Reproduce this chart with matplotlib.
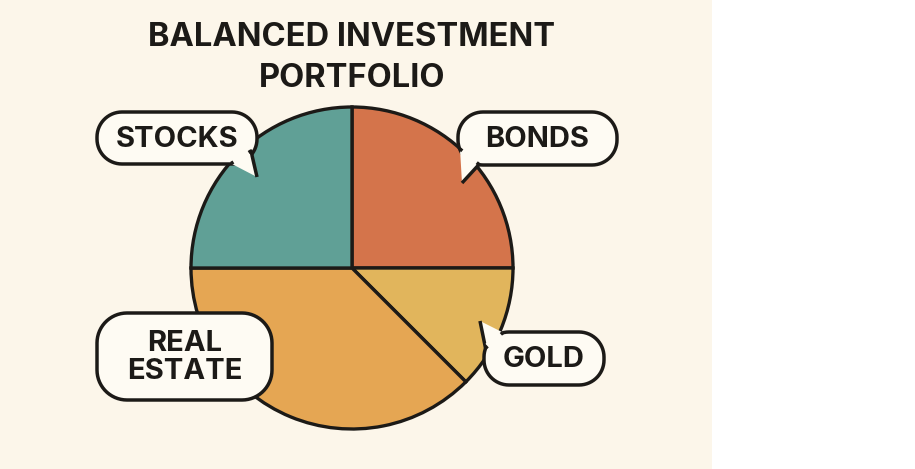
import numpy as np
import matplotlib.pyplot as plt
from matplotlib.patches import Polygon, Rectangle

# slice data, clockwise from 12 o'clock
labels = ['BONDS', 'GOLD', 'REAL\nESTATE', 'STOCKS']
shares = [25, 12.5, 37.5, 25]
colors = ['#d4744b', '#e1b55c', '#e5a653', '#60a096']
title = 'BALANCED INVESTMENT\nPORTFOLIO'

W, H = 915, 469
INK = '#1c1a17'
BG = '#fcf6ea'
BUBBLE = '#fefbf3'
FONT = 'Inter'

# bubble layout in image pixels (y measured from top): box x0, y0, x1, y1, corner radius, tail points
bubbles = {
    'STOCKS': dict(box=(97, 112, 257, 164), r=25, tail=[(231, 163.5), (251, 151), (257, 177)]),
    'BONDS': dict(box=(458, 112, 617, 165), r=25, tail=[(460, 149), (479, 164.5), (462, 183)]),
    'GOLD': dict(box=(484, 332, 604, 385), r=25, tail=[(503, 332.5), (485.5, 348), (480, 321)]),
    'REAL\nESTATE': dict(box=(97, 313, 272, 400), r=30, tail=None),
}

fig = plt.figure(figsize=(W / 100, H / 100), dpi=100)
fig.patch.set_facecolor('white')
ax = fig.add_axes([0, 0, 1, 1])
ax.add_patch(Rectangle((0, 0), 712, H, facecolor=BG, edgecolor='none', zorder=0))

ax.pie(shares, colors=colors, startangle=90, counterclock=False,
       center=(352, H - 268), radius=161, frame=True,
       wedgeprops=dict(edgecolor=INK, linewidth=2.4, zorder=2))

def fy(y):
    return H - y

def rounded_rect(x0, y0, x1, y1, r):
    # corners in figure pixels, y up
    pts = []
    for cx, cy, a0 in [(x1 - r, y1 - r, 0), (x0 + r, y1 - r, 90),
                       (x0 + r, y0 + r, 180), (x1 - r, y0 + r, 270)]:
        t = np.radians(np.linspace(a0, a0 + 90, 16))
        pts += list(zip(cx + r * np.cos(t), cy + r * np.sin(t)))
    return pts

for lab in labels:
    b = bubbles[lab]
    x0, y0, x1, y1 = b['box']
    ax.add_patch(Polygon(rounded_rect(x0, fy(y1), x1, fy(y0), b['r']), closed=True,
                         facecolor=BUBBLE, edgecolor=INK, linewidth=2.5,
                         joinstyle='round', zorder=4))
    if b['tail'] is not None:
        pts = [(px, fy(py)) for px, py in b['tail']]
        ax.add_patch(Polygon(pts, closed=False, facecolor=BUBBLE, edgecolor=INK,
                             linewidth=2.5, joinstyle='round', zorder=5))
        # hide box outline under the tail base
        (ax_, ay_), (bx_, by_) = pts[0], pts[1]
        inner = [(ax_ + (bx_ - ax_) * 0.12, ay_ + (by_ - ay_) * 0.12),
                 (ax_ + (bx_ - ax_) * 0.88, ay_ + (by_ - ay_) * 0.88)]
        ax.plot([p[0] for p in inner], [p[1] for p in inner], color=BUBBLE,
                linewidth=4.5, solid_capstyle='butt', zorder=6)
    ax.text((x0 + x1) / 2, fy((y0 + y1) / 2 + 1), lab, ha='center', va='center',
            fontsize=21, fontweight='bold', family=FONT, color=INK,
            linespacing=1.02, zorder=7)

ax.text(352, fy(58), title, ha='center', va='center', fontsize=23.5,
        fontweight='bold', family=FONT, color=INK, linespacing=1.45, zorder=7)

ax.set_xlim(0, W)
ax.set_ylim(0, H)
ax.set_aspect('equal')
ax.axis('off')
fig.savefig('out.png', dpi=100, facecolor=fig.get_facecolor())
